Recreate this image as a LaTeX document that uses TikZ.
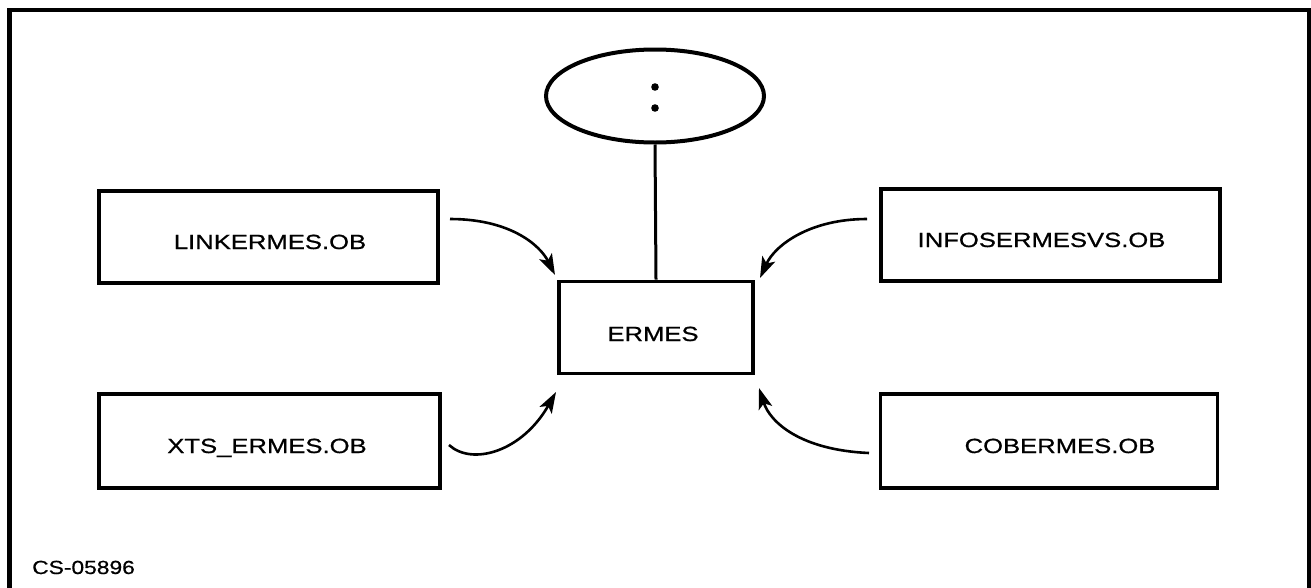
\documentclass[tikz,border=0pt]{standalone}
\usepackage{fontspec}
\setmainfont{Liberation Sans}[FakeStretch=1.2, FakeBold=0.6]
\newfontfamily\boxfont{Liberation Sans}[FakeStretch=1.25, FakeBold=0.8]
\usetikzlibrary{arrows.meta,shapes.geometric}
\begin{document}
\begin{tikzpicture}[x=1pt,y=-1pt,
  lbl/.style={font=\boxfont\fontsize{20.5}{24}\selectfont, inner sep=0pt, anchor=base},
  modbox/.style={draw, line width=3.6pt, inner sep=0pt, minimum width=#1, minimum height=92pt},
  feed/.style={line width=2.6pt, -{Stealth[length=21pt,width=14pt,inset=5pt]}}]
  \useasboundingbox (0,0) rectangle (1311,587);
  % open frame
  \draw[line width=4.5pt] (9.5,590) -- (9.5,10) -- (1309,10) -- (1309,590);

  % central module and its header ellipse
  \node[modbox=194pt] (ermes) at (656,327.5) {};
  \node[draw, ellipse, line width=4pt, minimum width=218pt, minimum height=93pt] (hdr) at (655,96) {};
  \fill (hdr.center) ++(0,-9) circle (3.8pt) ++(0,21) circle (3.8pt);
  \draw[line width=3pt] (hdr.south) -- (ermes.north);

  % object files
  \node[modbox=339pt] (link) at (268.5,237) {};
  \node[modbox=339pt] (info) at (1050.5,235) {};
  \node[modbox=341pt, minimum height=94pt] (xts) at (269.5,441) {};
  \node[modbox=337pt, minimum height=94pt] (cob) at (1049,441) {};

  % box labels (baseline just below each box centre)
  \node[lbl] (ermestxt) at ([shift={(-3,13.5)}]ermes.center) {ERMES};
  \node[lbl] (linktxt) at ([shift={(1.5,12)}]link.center) {LINKERMES.OB};
  \node[lbl] (infotxt) at ([shift={(-9,12)}]info.center) {INFOSERMESVS.OB};
  \node[lbl] (xtstxt) at ([shift={(-2.5,12)}]xts.center) {XTS\_ERMES.OB};
  \node[lbl] (cobtxt) at ([shift={(11,12)}]cob.center) {COBERMES.OB};

  % connector ends
  \coordinate (linkout) at (450,219);
  \coordinate (infoout) at (867,219);
  \coordinate (xtsout) at (449,445);
  \coordinate (cobout) at (869,453);
  \coordinate (ermesnw) at (555,275);
  \coordinate (ermesne) at (760,278);
  \coordinate (ermessw) at (556,392);
  \coordinate (ermesse) at (759,388);

  \draw[feed] (linkout) .. controls (510,219) and (540,245) .. (ermesnw);
  \draw[feed] (infoout) .. controls (810,219) and (775,245) .. (ermesne);
  \draw[feed] (xtsout) .. controls (472,466) and (522,452) .. (ermessw);
  \draw[feed] (cobout) .. controls (800,450) and (770,422) .. (ermesse);

  \node[font=\fontsize{19}{22}\selectfont, inner sep=0pt, anchor=base west] (code) at (32,574) {CS-05896};
\end{tikzpicture}
\end{document}
